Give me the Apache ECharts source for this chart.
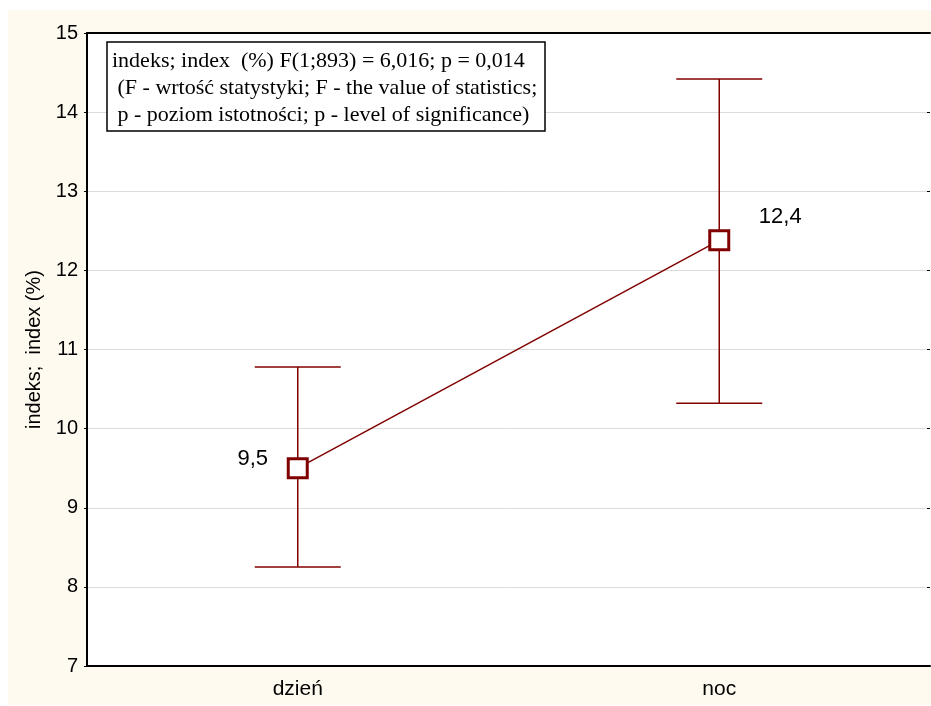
<!DOCTYPE html>
<html>
<head>
<meta charset="utf-8">
<script src="https://cdn.jsdelivr.net/npm/echarts@6/dist/echarts.min.js"></script>
<style>
html,body{margin:0;padding:0;background:#fff;}
#c{width:931px;height:706px;}
</style>
</head>
<body>
<div id="c"></div>
<script>
var categories = ['dzień', 'noc'];
var means = [9.5, 12.38];
var upper = [10.78, 14.42];
var lower = [8.25, 10.32];
var yTicks = {min: 7, max: 15, interval: 1};
var yAxisName = 'indeks;  index (%)';
var noteLines = [
  'indeks; index  (%) F(1;893) = 6,016; p = 0,014',
  ' (F - wrtość statystyki; F - the value of statistics;',
  ' p - poziom istotności; p - level of significance)'
];

var RED = '#800000';
var SANS = '"Liberation Sans", Arial, sans-serif';
var chart = echarts.init(document.getElementById('c'), null, {renderer: 'canvas'});

var errData = categories.map(function (c, i) { return [i, lower[i], upper[i]]; });

var option = {
  animation: false,
  backgroundColor: '#fff',
  graphic: [
    {type: 'rect', z: -10, shape: {x: 8, y: 10, width: 931, height: 695}, style: {fill: '#fffaf0'}, silent: true},
    {type: 'rect', zlevel: 1, z: 100, shape: {x: 107, y: 42, width: 438, height: 89}, style: {fill: '#fff', stroke: '#000', lineWidth: 1.5}},
    {type: 'text', zlevel: 1, z: 101, x: 112, y: 48, style: {text: noteLines.join('\n'), font: '22px "Liberation Serif", "Times New Roman", serif', fill: '#000', lineHeight: 27}}
  ],
  grid: {left: 87, right: 1, top: 33, bottom: 40, show: true, backgroundColor: '#fff', borderWidth: 0},
  xAxis: [
    {type: 'category', data: categories, boundaryGap: true, position: 'bottom',
     axisLine: {lineStyle: {color: '#000', width: 2}},
     axisTick: {inside: true, alignWithLabel: true, length: 4, lineStyle: {color: '#000'}},
     axisLabel: {color: '#000', fontSize: 21, margin: 13, fontFamily: SANS},
     splitLine: {show: false}},
    {type: 'category', data: categories, boundaryGap: true, position: 'top',
     axisLine: {lineStyle: {color: '#000', width: 2}},
     axisTick: {inside: true, alignWithLabel: true, length: 4, lineStyle: {color: '#000'}},
     axisLabel: {show: false}, splitLine: {show: false}}
  ],
  yAxis: [
    {type: 'value', min: yTicks.min, max: yTicks.max, interval: yTicks.interval,
     name: yAxisName, nameLocation: 'middle', nameGap: 43,
     nameTextStyle: {color: '#000', fontSize: 20, fontFamily: SANS},
     axisLine: {show: true, lineStyle: {color: '#000', width: 2}},
     axisTick: {show: true, inside: false, length: 3, lineStyle: {color: '#000'}},
     axisLabel: {color: '#000', fontSize: 20, margin: 9, fontFamily: SANS},
     splitLine: {show: true, lineStyle: {color: '#dcdcdc', width: 1}}},
    {type: 'value', min: yTicks.min, max: yTicks.max, interval: yTicks.interval, position: 'right',
     axisLine: {show: false},
     axisTick: {show: true, inside: true, length: 3, lineStyle: {color: '#000'}},
     axisLabel: {show: false}, splitLine: {show: false}}
  ],
  series: [
    {type: 'custom', xAxisIndex: 0, yAxisIndex: 0, z: 2, data: errData,
     renderItem: function (params, api) {
       var lo = api.coord([api.value(0), api.value(1)]);
       var hi = api.coord([api.value(0), api.value(2)]);
       var hw = 43;
       var st = {stroke: RED, lineWidth: 1.5};
       return {type: 'group', children: [
         {type: 'line', shape: {x1: hi[0], y1: hi[1], x2: lo[0], y2: lo[1]}, style: st},
         {type: 'line', shape: {x1: hi[0] - hw, y1: hi[1], x2: hi[0] + hw, y2: hi[1]}, style: st},
         {type: 'line', shape: {x1: lo[0] - hw, y1: lo[1], x2: lo[0] + hw, y2: lo[1]}, style: st}
       ]};
     }},
    {type: 'line', xAxisIndex: 0, yAxisIndex: 0, z: 3, data: means.map(function (v, i) {
       return {value: v, label: {offset: i === 0 ? [-45, -9] : [61, -23]}};
     }),
     symbol: 'rect', symbolSize: 19,
     itemStyle: {color: '#fff', borderColor: RED, borderWidth: 3},
     lineStyle: {color: RED, width: 1.5},
     label: {show: true, position: 'inside', color: '#000', fontSize: 22, fontFamily: SANS,
       formatter: function (p) { return p.value.toFixed(1).replace('.', ','); }}}
  ]
};
chart.setOption(option);
</script>
</body>
</html>
